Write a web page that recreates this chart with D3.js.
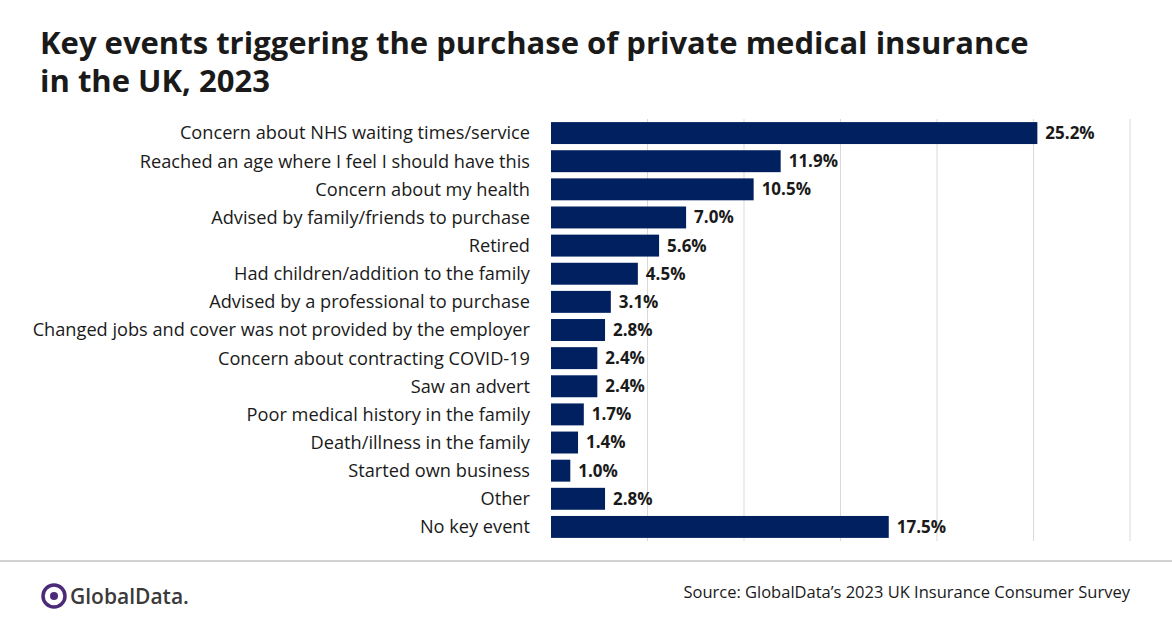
<!DOCTYPE html>
<html>
<head>
<meta charset="utf-8">
<script src="https://cdn.jsdelivr.net/npm/d3@7"></script>
<style>
body { margin: 0; background: #fff; font-family: "Open Sans", "Noto Sans", sans-serif; }
</style>
</head>
<body>
<svg width="1172" height="628"></svg>
<script>
const categories = [
  "Concern about NHS waiting times/service",
  "Reached an age where I feel I should have this",
  "Concern about my health",
  "Advised by family/friends to purchase",
  "Retired",
  "Had children/addition to the family",
  "Advised by a professional to purchase",
  "Changed jobs and cover was not provided by the employer",
  "Concern about contracting COVID-19",
  "Saw an advert",
  "Poor medical history in the family",
  "Death/illness in the family",
  "Started own business",
  "Other",
  "No key event"
];
const values = [25.2, 11.9, 10.5, 7.0, 5.6, 4.5, 3.1, 2.8, 2.4, 2.4, 1.7, 1.4, 1.0, 2.8, 17.5];
const gridTicks = [5, 10, 15, 20, 25, 30];

const svg = d3.select("svg");

svg.append("text").attr("x", 40).attr("y", 54)
  .attr("font-size", 31).attr("font-weight", "bold").attr("fill", "#1a1a1a")
  .text("Key events triggering the purchase of private medical insurance");
svg.append("text").attr("x", 40).attr("y", 92)
  .attr("font-size", 31).attr("font-weight", "bold").attr("fill", "#1a1a1a")
  .text("in the UK, 2023");

const x = d3.scaleLinear().domain([0, 30]).range([551, 1130]);
const y = d3.scaleBand().domain(categories).range([119, 541]).paddingInner(0.22).paddingOuter(0.11);

svg.append("g").selectAll("line").data(gridTicks).enter().append("line")
  .attr("x1", d => x(d)).attr("x2", d => x(d))
  .attr("y1", 119).attr("y2", 541)
  .attr("stroke", "#d9d9d9").attr("stroke-width", 1);

svg.append("g").selectAll("rect").data(values).enter().append("rect")
  .attr("x", x(0))
  .attr("y", (d, i) => y(categories[i]))
  .attr("width", d => x(d) - x(0))
  .attr("height", y.bandwidth())
  .attr("fill", "#002060");

svg.append("g").selectAll("text").data(values).enter().append("text")
  .attr("x", d => x(d) + 8)
  .attr("y", (d, i) => y(categories[i]) + y.bandwidth() / 2)
  .attr("dy", "0.35em")
  .attr("font-size", 17).attr("font-weight", "bold").attr("fill", "#1a1a1a")
  .text(d => d.toFixed(1) + "%");

svg.append("g").selectAll("text").data(categories).enter().append("text")
  .attr("x", 530)
  .attr("y", d => y(d) + y.bandwidth() / 2)
  .attr("dy", "0.35em")
  .attr("text-anchor", "end")
  .attr("font-size", 18.2).attr("fill", "#1a1a1a")
  .text(d => d);

svg.append("line").attr("x1", 0).attr("x2", 1172).attr("y1", 561).attr("y2", 561)
  .attr("stroke", "#a6a6a6").attr("stroke-width", 1);

// logo
const logo = svg.append("g").attr("transform", "translate(54,596)");
logo.append("circle").attr("r", 11).attr("fill", "none").attr("stroke", "#4b2a7a").attr("stroke-width", 3.5);
logo.append("circle").attr("r", 4).attr("cx", 0).attr("cy", 0).attr("fill", "#4b2a7a");
svg.append("text").attr("x", 70).attr("y", 604)
  .attr("font-size", 21).attr("fill", "#3a3a3a").attr("font-weight", "600")
  .text("GlobalData.");

svg.append("text").attr("x", 1130).attr("y", 598)
  .attr("text-anchor", "end").attr("font-size", 16.5).attr("fill", "#1a1a1a")
  .text("Source: GlobalData’s 2023 UK Insurance Consumer Survey");
</script>
</body>
</html>
